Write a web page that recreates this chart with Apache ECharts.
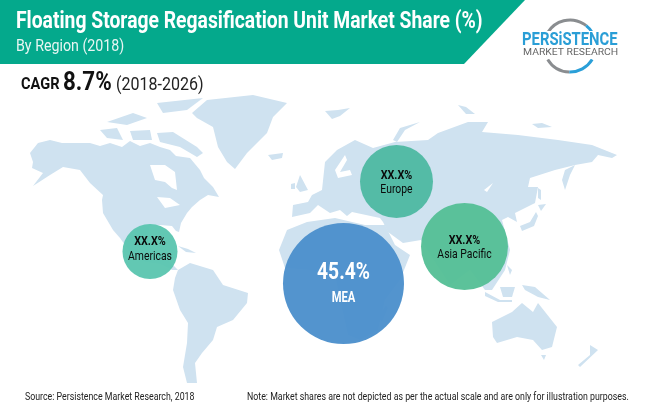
<!DOCTYPE html>
<html>
<head>
<meta charset="utf-8">
<style>html,body{margin:0;padding:0;background:#fff}#main{width:650px;height:419px}</style>
<script src="https://cdn.jsdelivr.net/npm/echarts@6/dist/echarts.min.js"></script>
</head>
<body>
<div id="main"></div>
<script>
// bubble data
var regions = ['Americas', 'Europe', 'Asia Pacific', 'MEA'];
var shareLabels = ['XX.X%', 'XX.X%', 'XX.X%', '45.4%'];
var bubbleX = [150, 396.5, 464.5, 343.5];
var bubbleY = [251.5, 181.5, 246.5, 283.5];
var bubbleDiameter = [55, 73, 87, 121];
var bubbleColors = ['#5cc6b0', '#4fb9a2', '#55c096', '#4c90cc'];
var shareOffset = [-9.5, -6, -6, -11];
var nameOffset = [5, 8.5, 8.5, 15];

// rough world outline, in picture pixels
var land = [
  // north america
  [[30,153],[38,143],[50,140],[62,143],[74,143],[90,143],[100,146],[110,143],[122,147],[130,141],[140,146],[150,143],[160,147],[170,150],[176,156],[190,158],[200,170],[204,178],[213,187],[219,197],[208,195],[200,200],[192,207],[187,213],[181,223],[179,232],[176,231],[172,226],[160,225],[150,226],[148,235],[152,250],[165,255],[170,262],[178,270],[172,270],[160,264],[145,262],[130,252],[120,238],[113,230],[103,213],[102,200],[103,195],[90,183],[80,170],[63,167],[50,175],[33,186],[43,173],[32,168],[33,162]],
  // cuba, hispaniola
  [[178,246],[188,249],[196,253],[186,252]],
  // greenland
  [[192,113],[207,100],[253,95],[287,103],[273,117],[267,133],[247,153],[235,169],[227,162],[218,147],[213,127],[197,118]],
  // arctic islands
  [[157,133],[173,132],[197,147],[203,153],[197,157],[180,147],[160,142]],
  [[157,103],[203,98],[187,110],[163,113]],
  [[100,130],[117,128],[123,140],[107,138]],
  [[107,122],[133,113],[147,118],[127,125]],
  [[130,131],[150,130],[152,140],[133,140]],
  // iceland, britain, ireland, svalbard
  [[268,155],[283,153],[282,158],[272,160]],
  [[296,187],[300,175],[308,190],[300,192]],
  [[291,184],[295,183],[295,189],[291,189]],
  [[325,111],[338,110],[350,108],[340,116],[332,119]],
  // south america
  [[178,270],[190,263],[213,270],[223,285],[248,293],[247,303],[233,320],[217,327],[213,340],[202,353],[195,363],[197,383],[187,383],[183,367],[187,343],[188,323],[180,310],[173,290],[175,278]],
  // africa
  [[279,250],[287,230],[307,222],[335,218],[365,225],[385,225],[395,245],[410,255],[400,280],[385,300],[378,330],[360,340],[348,335],[340,300],[335,275],[310,270],[285,268]],
  [[378,317],[386,305],[388,308],[382,322]],
  // eurasia
  [[292,217],[293,205],[308,202],[312,195],[322,190],[325,162],[337,150],[355,140],[373,148],[395,142],[428,140],[438,133],[468,122],[488,122],[482,132],[518,135],[558,140],[592,145],[617,155],[612,158],[598,155],[592,162],[575,165],[555,170],[530,178],[528,187],[538,187],[535,203],[515,213],[517,222],[508,217],[502,220],[510,250],[505,270],[492,290],[485,290],[470,270],[450,285],[440,270],[421,240],[403,243],[388,232],[383,222],[380,218],[352,212],[347,216],[340,210],[330,213],[318,205],[310,213]],
  // novaya zemlya, severnaya zemlya, new siberian islands
  [[393,140],[400,128],[420,122],[405,130],[397,142]],
  [[458,105],[466,107],[475,114],[466,114]],
  [[532,124],[542,123],[552,127],[538,128]],
  // kamchatka, sakhalin, japan
  [[575,165],[570,175],[565,190],[562,180],[565,170]],
  [[538,188],[541,190],[541,200],[538,198]],
  [[538,205],[546,204],[541,211]],
  [[520,226],[530,222],[536,212],[538,216],[534,226],[522,231]],
  // south east asia
  [[507,265],[512,270],[510,275]],
  [[500,287],[515,287],[512,297],[503,297]],
  [[485,292],[500,300],[512,300],[512,302],[498,302],[485,296]],
  [[522,285],[535,287],[550,300],[538,297],[525,290]],
  // australia, tasmania, new zealand
  [[492,322],[512,312],[522,303],[533,312],[538,303],[557,327],[552,347],[542,350],[533,340],[517,337],[497,343],[493,337]],
  [[541,355],[546,355],[544,360]],
  [[590,345],[598,350],[580,367],[578,365],[590,355]]
];
// inland water painted over the land
var water = [
  [[150,165],[165,165],[175,172],[177,190],[172,188],[165,182],[155,180]],
  [[157,197],[170,198],[180,205],[165,208]],
  [[335,170],[345,155],[347,160],[340,172],[350,170],[352,175],[338,178]],
  [[484,190],[493,183],[487,192]]
];

function polygonSeries(shapes, color) {
  return {
    type: 'custom',
    coordinateSystem: 'cartesian2d',
    silent: true,
    clip: false,
    data: shapes.map(function (s, i) { return [i]; }),
    renderItem: function (params, api) {
      var pts = shapes[api.value(0)].map(function (p) { return api.coord(p); });
      return { type: 'polygon', shape: { points: pts }, style: { fill: color } };
    }
  };
}

var chart = echarts.init(document.getElementById('main'));

function txt(x, y, text, font, color, sx) {
  return {
    type: 'text', x: x, y: y, scaleX: sx, z: 10,
    style: { x: 0, y: 0, text: text, font: font, fill: color, textAlign: 'left', textVerticalAlign: 'middle' }
  };
}

chart.setOption({
  animation: false,
  backgroundColor: '#fff',
  grid: { left: 0, right: 0, top: 0, bottom: 0 },
  xAxis: { type: 'value', min: 0, max: 650, show: false },
  yAxis: { type: 'value', min: 0, max: 419, inverse: true, show: false },
  series: [
    polygonSeries(land, '#cfe2f0'),
    polygonSeries(water, '#ffffff'),
    {
      type: 'scatter',
      silent: true,
      data: regions.map(function (r, i) {
        return {
          name: r,
          value: [bubbleX[i], bubbleY[i]],
          symbolSize: bubbleDiameter[i],
          itemStyle: { color: bubbleColors[i], opacity: 0.96 }
        };
      })
    },
    {
      type: 'custom',
      coordinateSystem: 'cartesian2d',
      silent: true,
      clip: false,
      z: 5,
      data: regions.map(function (r, i) { return [bubbleX[i], bubbleY[i], i]; }),
      renderItem: function (params, api) {
        var i = api.value(2);
        var c = api.coord([api.value(0), api.value(1)]);
        var big = i === 3;
        return {
          type: 'group',
          children: [
            { type: 'text', x: c[0], y: c[1] + shareOffset[i], scaleX: 0.8,
              style: { x: 0, y: 0, text: shareLabels[i], font: 'bold ' + (big ? 24 : 13.5) + 'px Roboto', fill: big ? '#fff' : '#0a0a0a', textAlign: 'center', textVerticalAlign: 'middle' } },
            { type: 'text', x: c[0], y: c[1] + nameOffset[i], scaleX: 0.8,
              style: { x: 0, y: 0, text: regions[i], font: (big ? 'bold 14' : '13') + 'px Roboto', fill: big ? '#fff' : '#0a0a0a', textAlign: 'center', textVerticalAlign: 'middle' } }
          ]
        };
      }
    }
  ],
  graphic: { elements: [
    { type: 'polygon', z: 1, shape: { points: [[0,0],[525,0],[464,64],[0,64]] }, style: { fill: '#04a98c' } },
    txt(16, 22, 'Floating Storage Regasification Unit Market Share (%)', 'bold 23px Roboto', '#fff', 0.84),
    txt(16, 47, 'By Region (2018)', '16px Roboto', '#e8f6f3', 0.89),
    txt(21, 85, 'CAGR', 'bold 17px Roboto', '#111', 0.86),
    txt(63, 83, '8.7%', 'bold 26px Roboto', '#111', 0.86),
    txt(116, 85, '(2018-2026)', '18px Roboto', '#222', 0.89),
    txt(25, 397, 'Source: Persistence Market Research, 2018', '11px Roboto', '#222', 0.8),
    txt(247, 397, 'Note: Market shares are not depicted as per the actual scale and are only for illustration purposes.', '11px Roboto', '#222', 0.8),
    // logo
    { type: 'arc', z: 5, shape: { cx: 570, cy: 46, r: 26, startAngle: -2.6, endAngle: -0.9 }, style: { stroke: '#8a8d90', lineWidth: 3, fill: 'none' } },
    { type: 'arc', z: 5, shape: { cx: 570, cy: 46, r: 26, startAngle: -0.9, endAngle: -0.55 }, style: { stroke: '#2a9fd8', lineWidth: 3, fill: 'none' } },
    { type: 'arc', z: 5, shape: { cx: 570, cy: 46, r: 26, startAngle: 0.55, endAngle: 1.6 }, style: { stroke: '#2a9fd8', lineWidth: 3, fill: 'none' } },
    { type: 'arc', z: 5, shape: { cx: 570, cy: 46, r: 26, startAngle: 1.6, endAngle: 2.6 }, style: { stroke: '#8a8d90', lineWidth: 3, fill: 'none' } },
    { type: 'rect', z: 6, shape: { x: 520, y: 31, width: 102, height: 28 }, style: { fill: '#fff' } },
    { type: 'text', x: 522, y: 40, scaleX: 0.78, z: 10, style: { x: 0, y: 0, text: 'PERSiSTENCE', font: 'bold 19px Roboto', fill: '#2a9ed6', textVerticalAlign: 'middle' } },
    { type: 'text', x: 523, y: 53, scaleX: 1.22, z: 10, style: { x: 0, y: 0, text: 'MARKET RESEARCH', font: '8.5px Roboto', fill: '#666', textVerticalAlign: 'middle' } }
  ] }
});
</script>
</body>
</html>
